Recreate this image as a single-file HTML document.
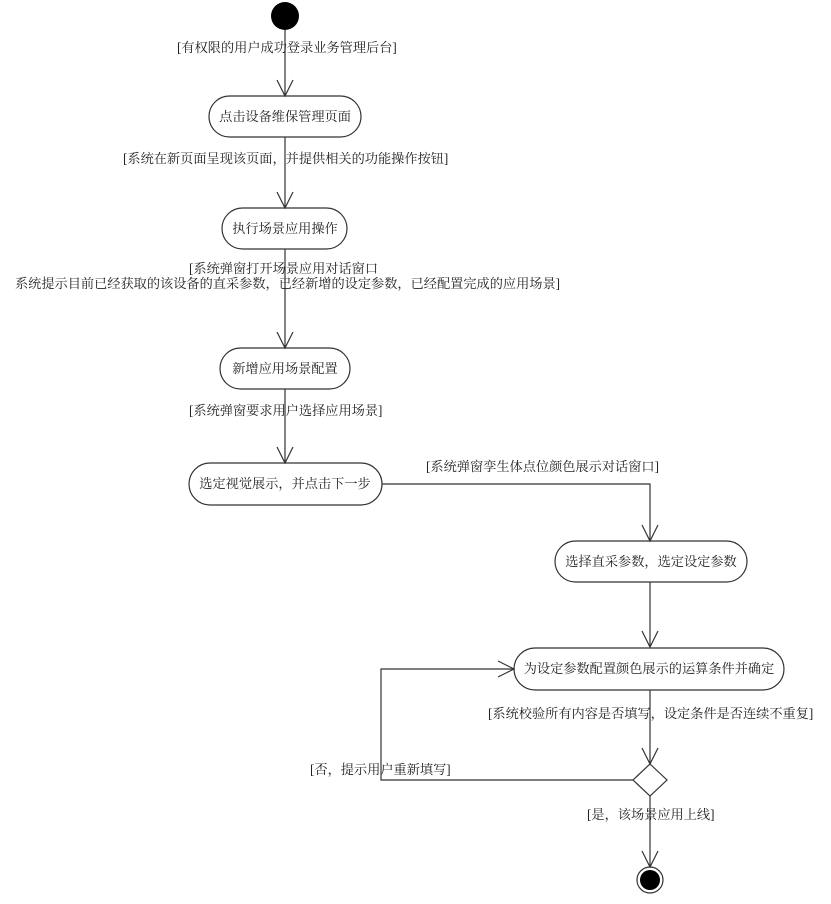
<!DOCTYPE html>
<html><head><meta charset="utf-8"><style>
html,body{margin:0;padding:0;background:#fff;}
svg text{font-family:"Liberation Serif","Noto Serif CJK SC",serif;font-size:13.2px;fill:#222;}
</style></head><body>
<svg width="831" height="899" viewBox="0 0 831 899" xmlns="http://www.w3.org/2000/svg">
<g fill="none" stroke="#333" stroke-width="1.2">
<line x1="285" y1="30" x2="285" y2="96"/>
<polyline points="277,80 285,96 293,80"/>
<line x1="285" y1="137" x2="285" y2="208"/>
<polyline points="277,192 285,208 293,192"/>
<line x1="285" y1="249" x2="285" y2="348"/>
<polyline points="277,332 285,348 293,332"/>
<line x1="285" y1="389" x2="285" y2="463"/>
<polyline points="277,447 285,463 293,447"/>
<polyline points="382,484 650,484 650,541"/>
<polyline points="642,525 650,541 658,525"/>
<line x1="650" y1="582" x2="650" y2="647"/>
<polyline points="642,631 650,647 658,631"/>
<line x1="650" y1="690" x2="650" y2="764"/>
<polyline points="642,748 650,764 658,748"/>
<polyline points="633,780 381,780 381,669 514,669"/>
<polyline points="498,661 514,669 498,677"/>
<line x1="650" y1="796" x2="650" y2="867"/>
<polyline points="642,851 650,867 658,851"/>
<rect x="209" y="96" width="152" height="41" rx="20.5"/>
<rect x="222" y="208" width="125" height="41" rx="20.5"/>
<rect x="220" y="348" width="130" height="41" rx="20.5"/>
<rect x="189" y="463" width="193" height="42" rx="21"/>
<rect x="555" y="541" width="192" height="41" rx="20.5"/>
<rect x="514" y="648" width="270" height="42" rx="21"/>
<polygon points="650,764 667,780 650,796 633,780"/>
<circle cx="650" cy="880" r="13"/>
</g>
<circle cx="285" cy="16" r="14" fill="#000"/>
<circle cx="650" cy="880" r="10" fill="#000"/>
<g text-anchor="middle">
<text x="285" y="121">点击设备维保管理页面</text>
<text x="285" y="233">执行场景应用操作</text>
<text x="285" y="373">新增应用场景配置</text>
<text x="285" y="488">选定视觉展示，并点击下一步</text>
<text x="651" y="566">选择直采参数，选定设定参数</text>
<text x="649" y="673">为设定参数配置颜色展示的运算条件并确定</text>
</g>
<g>
<text x="177" y="52">[有权限的用户成功登录业务管理后台]</text>
<text x="123" y="163">[系统在新页面呈现该页面，并提供相关的功能操作按钮]</text>
<text x="189" y="273">[系统弹窗打开场景应用对话窗口</text>
<text x="15" y="288">系统提示目前已经获取的该设备的直采参数，已经新增的设定参数，已经配置完成的应用场景]</text>
<text x="189" y="415">[系统弹窗要求用户选择应用场景]</text>
<text x="426" y="471">[系统弹窗孪生体点位颜色展示对话窗口]</text>
<text x="488" y="718">[系统校验所有内容是否填写，设定条件是否连续不重复]</text>
<text x="310" y="774">[否，提示用户重新填写]</text>
<text x="587" y="819">[是，该场景应用上线]</text>
</g>
</svg>
</body></html>
